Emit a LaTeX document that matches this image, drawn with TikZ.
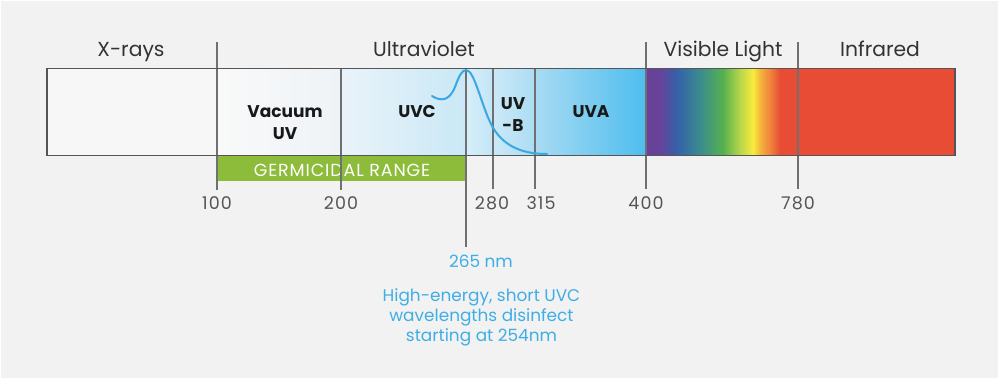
\documentclass[tikz,border=0pt]{standalone}
\usepackage{fontspec}
\setmainfont{Poppins}
\definecolor{bg}{HTML}{F1F2F1}
\definecolor{frame}{HTML}{555555}
\definecolor{tick}{HTML}{707070}
\definecolor{germ}{HTML}{8DBB3A}
\definecolor{curve}{HTML}{3AA8E2}
\definecolor{bluetxt}{HTML}{3FAEE6}
\definecolor{hdr}{HTML}{333333}
\definecolor{num}{HTML}{555555}
\definecolor{irred}{HTML}{E84C35}
\definecolor{sp1}{HTML}{6A3F98}
\definecolor{sp2}{HTML}{67439A}
\definecolor{sp3}{HTML}{3561A8}
\definecolor{sp4}{HTML}{3A8C8E}
\definecolor{sp5}{HTML}{55B04F}
\definecolor{sp6}{HTML}{B7D64A}
\definecolor{sp7}{HTML}{F8EC3C}
\definecolor{sp8}{HTML}{F4B03B}
\definecolor{sp9}{HTML}{EE7A3A}
\pgfdeclarehorizontalshading{spectrum}{100bp}{%
color(0bp)=(sp1); color(25bp)=(sp1); color(30.2bp)=(sp2); color(36.6bp)=(sp3);
color(45.1bp)=(sp4); color(53.7bp)=(sp5); color(60.1bp)=(sp6); color(64.9bp)=(sp7);
color(67.9bp)=(sp8); color(72bp)=(sp9); color(75bp)=(irred); color(100bp)=(irred)}
\tikzset{
  sep/.style={draw=tick, line width=1.3pt},
  hdrlabel/.style={anchor=base, text=hdr, font=\fontsize{20.3}{24}\selectfont, inner sep=0pt},
  bandlabel/.style={anchor=base, text=black!90, font=\bfseries\fontsize{17}{20}\selectfont, inner sep=0pt},
  numlabel/.style={anchor=base, text=num, font=\fontsize{17.5}{20}\selectfont\addfontfeatures{LetterSpace=6}, inner sep=0pt},
  bluelabel/.style={anchor=base, text=bluetxt, font=\fontsize{16.9}{20}\selectfont, inner sep=0pt},
}
\begin{document}
\begin{tikzpicture}[x=1pt,y=-1pt]
\useasboundingbox (0,0) rectangle (999,379);
\fill[bg] (0,0) rectangle (999,379);
\draw[white, line width=2pt] (0,0) rectangle (999,379);
% bar fills
\fill[color=bg!60!white] (47,68.5) rectangle (217,155.5);
\shade[left color={rgb,255:red,249;green,249;blue,249}, right color={rgb,255:red,238;green,243;blue,247}] (217,68.5) rectangle (341,155.5);
\shade[left color={rgb,255:red,234;green,243;blue,249}, right color={rgb,255:red,201;green,232;blue,246}] (341,68.5) rectangle (466,155.5);
\shade[left color={rgb,255:red,214;green,238;blue,249}, right color={rgb,255:red,195;green,229;blue,246}] (466,68.5) rectangle (493,155.5);
\shade[left color={rgb,255:red,203;green,233;blue,247}, right color={rgb,255:red,172;green,220;blue,243}] (493,68.5) rectangle (535,155.5);
\shade[left color={rgb,255:red,168;green,219;blue,243}, right color={rgb,255:red,78;green,189;blue,238}] (535,68.5) rectangle (646,155.5);
\shade[shading=spectrum] (646,68.5) rectangle (780,155.5);
\fill[irred] (779.5,68.5) rectangle (955,155.5);
% germicidal range
\fill[germ] (217,155.5) rectangle (466,181);
\node[anchor=base, text=white, font=\fontsize{17.5}{20}\selectfont\addfontfeatures{LetterSpace=5}, inner sep=0pt] (germtxt) at (342,176.7) {GERMICIDAL RANGE};
% tick / separator coordinates
\coordinate (t100) at (217,42);   \coordinate (b100) at (217,190);
\coordinate (t200) at (341,68.5); \coordinate (b200) at (341,190);
\coordinate (t265) at (466,68.5); \coordinate (b265) at (466,247);
\coordinate (t280) at (493,68.5); \coordinate (b280) at (493,189);
\coordinate (t315) at (535,68.5); \coordinate (b315) at (535,189);
\coordinate (t400) at (646,42);   \coordinate (b400) at (646,189);
\coordinate (t780) at (798,42);   \coordinate (b780) at (798,189);
\foreach \n in {100,200,265,280,315,400,780} \draw[sep] (t\n) -- (b\n);
% curve
\draw[curve, line width=2pt, line cap=round]
  (432,96) .. controls (440,101) and (449,102) .. (455,87)
  .. controls (459,76) and (462,70) .. (466,70)
  .. controls (474,70) and (480,100) .. (490,122)
  .. controls (502,148) and (525,154) .. (547,154);
% bar frame
\draw[frame, line width=1.8pt] (47,68.5) rectangle (955,155.5);
% header labels
\node[hdrlabel] (xr) at (131,56.5) {X-rays};
\node[hdrlabel] (uv) at (424,56.5) {Ultraviolet};
\node[hdrlabel] (vis) at (723,56.5) {Visible Light};
\node[hdrlabel] (ir) at (880,56.5) {Infrared};
% band labels
\node[bandlabel] (vac1) at (285,117.3) {Vacuum};
\node[bandlabel] (vac2) at (285,139.3) {UV};
\node[bandlabel] (uvc) at (417,117.3) {UVC};
\node[bandlabel] (uvb1) at (513,109.3) {UV};
\node[bandlabel] (uvb2) at (513,131.7) {-B};
\node[bandlabel] (uva) at (591,117.3) {UVA};
% numbers
\node[numlabel] (n100) at (217,210) {100};
\node[numlabel] (n200) at (341,210) {200};
\node[numlabel] (n280) at (492,210) {280};
\node[numlabel] (n315) at (541,210) {315};
\node[numlabel] (n400) at (646,210) {400};
\node[numlabel] (n780) at (798,210) {780};
% blue notes
\node[bluelabel] (nm) at (481,267.7) {265 nm};
\node[bluelabel] (l1) at (481.5,301.7) {High-energy, short UVC};
\node[bluelabel] (l2) at (481.5,321.7) {wavelengths disinfect};
\node[bluelabel] (l3) at (481.5,341.7) {starting at 254nm};
\end{tikzpicture}
\end{document}
